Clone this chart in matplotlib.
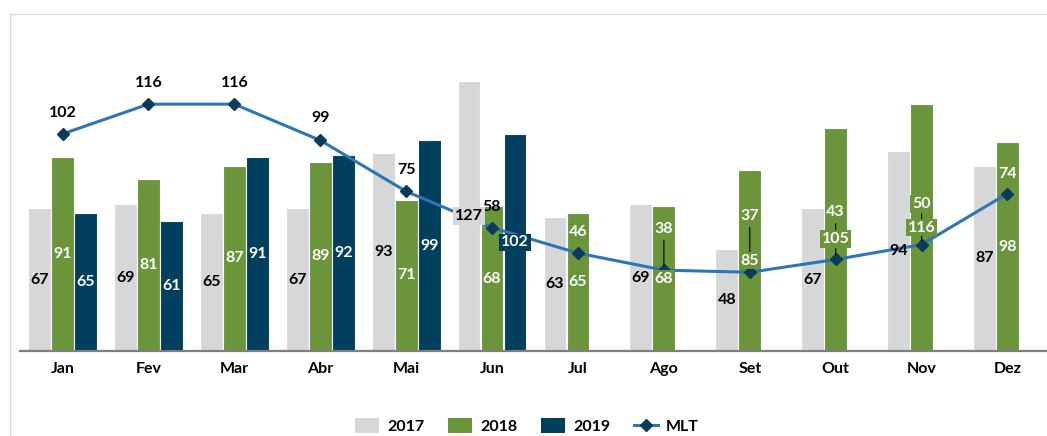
import numpy as np
import matplotlib
matplotlib.use("Agg")
import matplotlib.pyplot as plt
from matplotlib.patches import Patch
from matplotlib.lines import Line2D

# ---------------- data ----------------
months = ["Jan", "Fev", "Mar", "Abr", "Mai", "Jun", "Jul", "Ago", "Set", "Out", "Nov", "Dez"]
v2017 = [67, 69, 65, 67, 93, 127, 63, 69, 48, 67, 94, 87]
v2018 = [91, 81, 87, 89, 71, 68, 65, 68, 85, 105, 116, 98]
v2019 = [65, 61, 91, 92, 99, 102]
mlt = [102, 116, 116, 99, 75, 58, 46, 38, 37, 43, 50, 74]
series_names = ["2017", "2018", "2019", "MLT"]

# ---------------- styles ----------------
C17 = "#D6D7D9"
C18 = "#6A953B"
C19 = "#003F5E"
CLINE = "#2E75B6"
CMARK = "#0B3A5B"
# vertical offset (px) of MLT labels above the markers
mlt_label_off_px = [21, 21, 21, 22, 21, 21, 21, 41, 56, 47, 41, 20]
mlt_label_white = [False, False, False, False, False, False, True, True, True, True, True, True]
mlt_leader = [False] * 7 + [True, True, True, True, False]
box18 = {7, 8, 9, 10}   # 2018 labels with a box
box_mlt = {10}

plt.rcParams['font.family'] = ['Lato', 'DejaVu Sans']
FS = 11.5

W, H = 1047, 436
fig = plt.figure(figsize=(W / 100, H / 100), dpi=100)
left_px = 19.6
ax = fig.add_axes([left_px / W, 1 - 351 / H, 1 - left_px / W, 150 * 2.128 / H])
ax.set_xlim(-0.5, 11.46)
ax.set_ylim(0, 150)

x = np.arange(len(months))
off = 0.268
bw = 0.265
ax.bar(x - off, v2017, bw, color=C17, edgecolor="white", linewidth=0.8, zorder=2)
ax.bar(x, v2018, bw, color=C18, edgecolor="white", linewidth=0.8, zorder=2)
x19 = np.arange(len(v2019))
ax.bar(x19 + off, v2019, bw, color=C19, edgecolor="white", linewidth=0.8, zorder=2)

# MLT line
ax.plot(x, mlt, color=CLINE, lw=2.2, zorder=3, solid_joinstyle="round",
        solid_capstyle="round")
ax.plot(x, mlt, linestyle="none", marker="D", ms=6.5, color=CMARK, zorder=4)

# bar labels
def bar_label(xv, val, color, box=None):
    kw = {}
    if box is not None:
        kw["bbox"] = dict(boxstyle="square,pad=0.12", fc=box, ec="none")
    ax.text(xv, val / 2, str(val), ha="center", va="center", fontsize=FS,
            fontweight="bold", color=color, zorder=6, **kw)

for i, v in enumerate(v2017):
    bar_label(x[i] - off, v, "black", C17 if i == 5 else None)
for i, v in enumerate(v2018):
    bar_label(x[i], v, "white", C18 if i in box18 else None)
for i, v in enumerate(v2019):
    bar_label(x[i] + off, v, "white", C19 if i == 5 else None)

# MLT labels
for i, v in enumerate(mlt):
    kw = {}
    if mlt_leader[i]:
        kw["arrowprops"] = dict(arrowstyle="-", color="black", lw=0.8,
                                shrinkA=1, shrinkB=3)
    if i in box_mlt:
        kw["bbox"] = dict(boxstyle="square,pad=0.12", fc=C18, ec="none")
    ax.annotate(str(v), xy=(x[i], v), xytext=(0, mlt_label_off_px[i] * 0.72),
                textcoords="offset points", ha="center", va="center",
                fontsize=FS, fontweight="bold",
                color="white" if mlt_label_white[i] else "black",
                zorder=5, **kw)

# axes styling
for s in ["top", "right", "left"]:
    ax.spines[s].set_visible(False)
ax.spines["bottom"].set_color("#7F7F7F")
ax.spines["bottom"].set_linewidth(1.6)
ax.spines["bottom"].set_zorder(7)
ax.set_yticks([])
ax.set_xticks(x)
ax.set_xticklabels(months, fontsize=FS, fontweight="bold")
ax.tick_params(axis="x", length=0, pad=8)

# outer frame lines
fig.add_artist(Line2D([10 / W, 10 / W], [0, 1 - 14.5 / H], transform=fig.transFigure,
                      color="#DADADA", lw=1))
fig.add_artist(Line2D([10 / W, 1], [1 - 14.5 / H, 1 - 14.5 / H], transform=fig.transFigure,
                      color="#DADADA", lw=1))

# legend
handles = [Patch(fc=C17, ec="none"), Patch(fc=C18, ec="none"), Patch(fc=C19, ec="none"),
           Line2D([], [], color=CLINE, lw=2.2, marker="D", ms=6, mfc=CMARK, mec=CMARK)]
fig.legend(handles, series_names, loc="center", bbox_to_anchor=(527 / W, 1 - 426 / H),
           ncol=4, frameon=False, prop=dict(weight="bold", size=FS),
           handlelength=1.5, handleheight=1.1, handletextpad=0.5, columnspacing=1.5)

fig.savefig("out.png", dpi=100)
